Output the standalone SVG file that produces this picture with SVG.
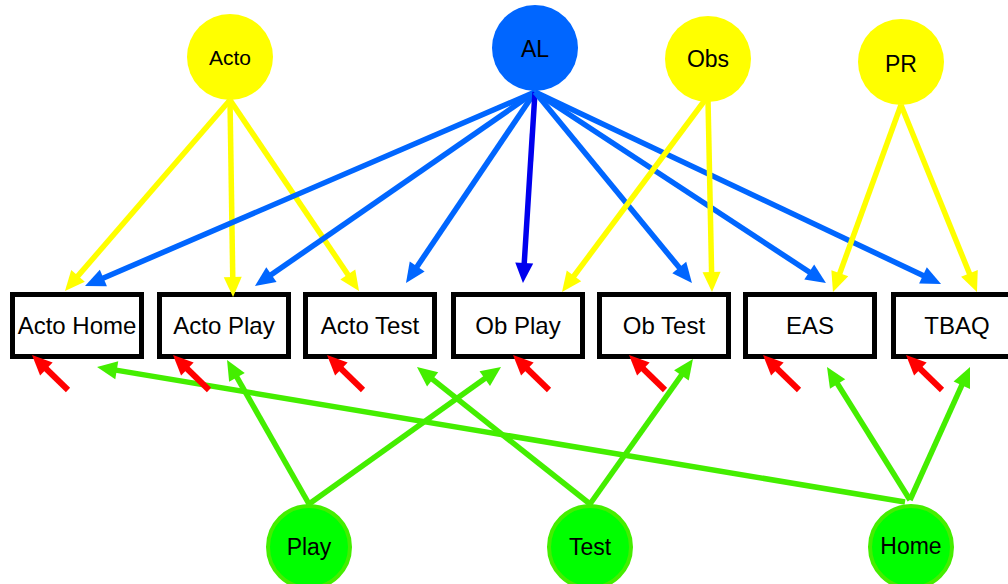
<svg xmlns="http://www.w3.org/2000/svg" width="1008" height="584" viewBox="0 0 1008 584">
<style>
.box{fill:#ffffff;stroke:#000000;stroke-width:5}
.bt{font-family:"Liberation Sans",Arial,sans-serif;font-size:24px;fill:#000000;text-anchor:middle}
.ct{font-family:"Liberation Sans",Arial,sans-serif;font-size:23px;fill:#000000;text-anchor:middle}
.lat{fill:#ffff00}
.al{fill:#0066ff}
.obsv{fill:#00ff00;stroke:#44ee00;stroke-width:4}
.y{stroke:#ffff00;stroke-width:5.5;fill:none;marker-end:url(#my)}
.b{stroke:#0066ff;stroke-width:5.5;fill:none;marker-end:url(#mb)}
.d{stroke:#0000ee;stroke-width:5.5;fill:none;marker-end:url(#md)}
.g{stroke:#44ee00;stroke-width:5.5;fill:none;marker-end:url(#mg)}
.r{stroke:#ff0000;stroke-width:6;fill:none;marker-end:url(#mr)}
</style>
<defs>
<marker id="my" markerUnits="userSpaceOnUse" markerWidth="22" markerHeight="20" refX="10" refY="9" orient="auto" overflow="visible"><path d="M0,0 L20,9 L0,18 z" fill="#ffff00"/></marker>
<marker id="mb" markerUnits="userSpaceOnUse" markerWidth="22" markerHeight="20" refX="10" refY="9" orient="auto" overflow="visible"><path d="M0,0 L20,9 L0,18 z" fill="#0066ff"/></marker>
<marker id="md" markerUnits="userSpaceOnUse" markerWidth="22" markerHeight="20" refX="10" refY="9" orient="auto" overflow="visible"><path d="M0,0 L20,9 L0,18 z" fill="#0000ee"/></marker>
<marker id="mg" markerUnits="userSpaceOnUse" markerWidth="22" markerHeight="20" refX="10" refY="9" orient="auto" overflow="visible"><path d="M0,0 L20,9 L0,18 z" fill="#44ee00"/></marker>
<marker id="mr" markerUnits="userSpaceOnUse" markerWidth="22" markerHeight="20" refX="10" refY="9" orient="auto" overflow="visible"><path d="M0,0 L20,9 L0,18 z" fill="#ff0000"/></marker>
</defs>
<rect width="1008" height="584" fill="#ffffff"/>
<g id="node-acto"><circle class="lat" cx="230" cy="57" r="43"/><text class="ct" x="230" y="65" style="font-size:21px">Acto</text></g>
<g id="node-al"><circle class="al" cx="535" cy="48" r="43"/><text class="ct" x="535" y="57">AL</text></g>
<g id="node-obs"><circle class="lat" cx="708" cy="59" r="43"/><text class="ct" x="708" y="67">Obs</text></g>
<g id="node-pr"><circle class="lat" cx="901" cy="62" r="43"/><text class="ct" x="901" y="72">PR</text></g>
<g id="node-acto-home"><rect class="box" x="12.5" y="294.5" width="129" height="62"/><text class="bt" x="77" y="334">Acto Home</text></g>
<g id="node-acto-play"><rect class="box" x="159.5" y="294.5" width="129" height="62"/><text class="bt" x="224" y="334">Acto Play</text></g>
<g id="node-acto-test"><rect class="box" x="305.5" y="294.5" width="129" height="62"/><text class="bt" x="370" y="334">Acto Test</text></g>
<g id="node-ob-play"><rect class="box" x="453.5" y="294.5" width="129" height="62"/><text class="bt" x="518" y="334">Ob Play</text></g>
<g id="node-ob-test"><rect class="box" x="599.5" y="294.5" width="129" height="62"/><text class="bt" x="664" y="334">Ob Test</text></g>
<g id="node-eas"><rect class="box" x="745.5" y="294.5" width="129" height="62"/><text class="bt" x="810" y="334">EAS</text></g>
<g id="node-tbaq"><rect class="box" x="893.5" y="294.5" width="129" height="62"/><text class="bt" x="957" y="334">TBAQ</text></g>
<g id="node-play"><circle class="obsv" cx="309" cy="547" r="41"/><text class="ct" x="309" y="555">Play</text></g>
<g id="node-test"><circle class="obsv" cx="590" cy="547" r="41"/><text class="ct" x="590" y="555">Test</text></g>
<g id="node-home"><circle class="obsv" cx="911" cy="547" r="41"/><text class="ct" x="911" y="554">Home</text></g>
<g id="connectors">
<line class="y" x1="230" y1="100" x2="71.5" y2="283.4"/>
<line class="y" x1="230" y1="100" x2="232.9" y2="287"/>
<line class="y" x1="230" y1="100" x2="353.4" y2="282.7"/>
<line class="b" x1="535" y1="92" x2="94.2" y2="282"/>
<line class="b" x1="535" y1="92" x2="263.2" y2="280.3"/>
<line class="b" x1="535" y1="92" x2="411.6" y2="274.7"/>
<line class="d" x1="535" y1="92" x2="523.6" y2="273"/>
<line class="b" x1="535" y1="92" x2="685.6" y2="275.3"/>
<line class="b" x1="535" y1="92" x2="817.6" y2="277.5"/>
<line class="b" x1="535" y1="92" x2="932" y2="279.7"/>
<line class="y" x1="705" y1="100" x2="568" y2="284"/>
<line class="y" x1="708" y1="100" x2="711.8" y2="282"/>
<line class="y" x1="901" y1="105" x2="836.4" y2="282.6"/>
<line class="y" x1="901" y1="105" x2="973.2" y2="282.7"/>
<line class="g" x1="309" y1="504" x2="232" y2="368.7"/>
<line class="g" x1="309" y1="504" x2="492.9" y2="372.8"/>
<line class="g" x1="590" y1="504" x2="424.8" y2="373.2"/>
<line class="g" x1="590" y1="504" x2="687.2" y2="367.2"/>
<line class="g" x1="905" y1="502" x2="106.9" y2="368.6"/>
<line class="g" x1="910" y1="500" x2="832.3" y2="375.5"/>
<line class="g" x1="910" y1="500" x2="965.9" y2="376.1"/>
<line class="r" x1="68" y1="390" x2="39.2" y2="362"/>
<line class="r" x1="209" y1="390" x2="180.2" y2="362"/>
<line class="r" x1="363" y1="390" x2="334.2" y2="362"/>
<line class="r" x1="549" y1="390" x2="520.2" y2="362"/>
<line class="r" x1="665" y1="390" x2="636.2" y2="362"/>
<line class="r" x1="799" y1="390" x2="770.2" y2="362"/>
<line class="r" x1="942" y1="390" x2="913.2" y2="362"/>
</g>
</svg>
